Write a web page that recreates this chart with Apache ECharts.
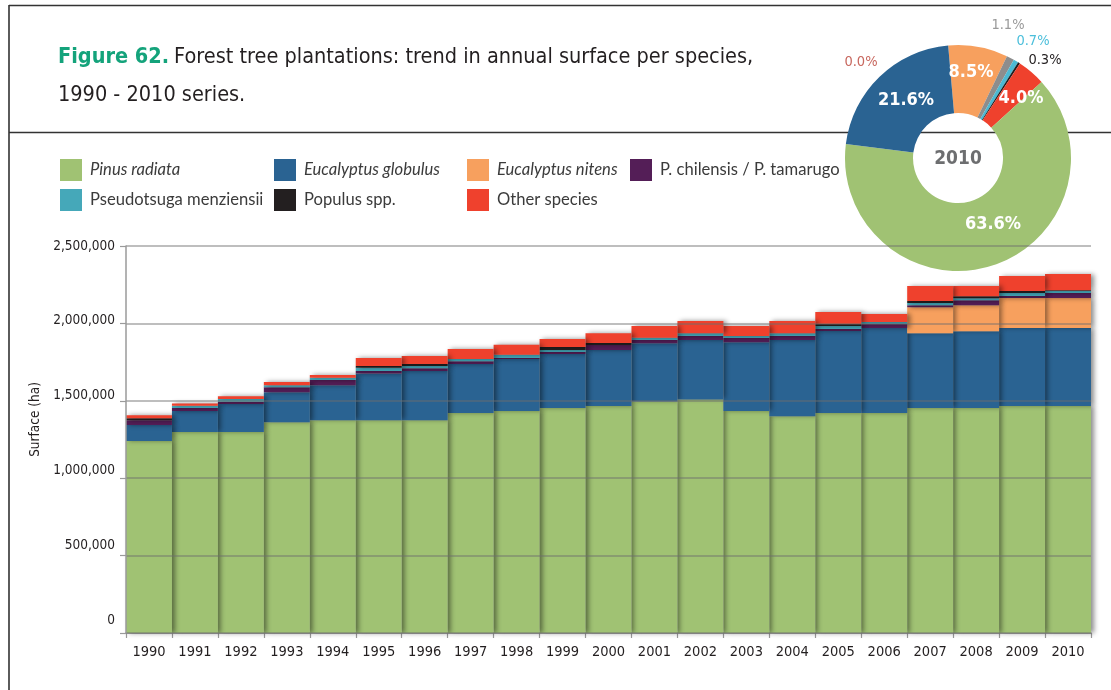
<!DOCTYPE html>
<html>
<head>
<meta charset="utf-8">
<script src="https://cdn.jsdelivr.net/npm/echarts@6/dist/echarts.min.js"></script>
<style>html,body{margin:0;padding:0;background:#fff}#c{width:1111px;height:690px}</style>
</head>
<body>
<div id="c"></div>
<script>
// ---------- DATA ----------
const years = ['1990','1991','1992','1993','1994','1995','1996','1997','1998','1999','2000','2001','2002','2003','2004','2005','2006','2007','2008','2009','2010'];
const pinusRadiata       = [1240000,1298000,1298000,1362000,1375000,1375000,1375000,1421000,1434000,1453000,1466000,1496000,1509000,1434000,1401000,1421000,1421000,1453000,1453000,1466000,1466000];
const eucalyptusGlobulus = [103000,136000,181000,194000,226000,302000,317000,316000,336000,349000,362000,375000,383000,445000,491000,530000,549000,484000,497000,504000,504000];
const eucalyptusNitens   = [0,0,0,0,0,0,0,0,0,0,0,0,0,0,0,0,0,168000,168000,194000,194000];
const pChilensis         = [32000,19000,15000,32000,33000,15000,19000,18000,7000,13000,32000,21000,26000,26000,26000,13000,26000,13000,32000,13000,32000];
const pseudotsuga        = [0,15000,17000,13000,15000,21000,13000,15000,20000,13000,0,15000,19000,13000,19000,19000,13000,13000,13000,19000,13000];
const populus            = [13000,0,0,0,0,11000,13000,0,0,19000,13000,0,0,0,0,13000,0,13000,13000,13000,5000];
const otherSpecies       = [19000,15000,19000,20000,17000,52000,52000,64000,65000,52000,64000,76000,78000,65000,78000,77000,52000,97000,65000,97000,105000];

const seriesNames = ['Pinus radiata','Eucalyptus globulus','Eucalyptus nitens','P. chilensis / P. tamarugo','Pseudotsuga menziensii','Populus spp.','Other species'];
const seriesValues = [pinusRadiata, eucalyptusGlobulus, eucalyptusNitens, pChilensis, pseudotsuga, populus, otherSpecies];

const yMin = 0, yMax = 2500000, yStep = 500000;

const pieYear = '2010';
const pieNames  = ['Eucalyptus nitens','P. chilensis / P. tamarugo','Pseudotsuga menziensii','Populus spp.','Other species','Pinus radiata','Eucalyptus globulus','Unspecified'];
const pieShares = [8.5, 1.1, 0.7, 0.3, 4.0, 63.6, 21.6, 0.0];

// ---------- STYLE ----------
const NARROW = "'DejaVu Sans Condensed','Liberation Sans Narrow','DejaVu Sans',sans-serif";
const LEG = "Lato,'Open Sans',sans-serif";
const seriesColors = ['#a0c273','#2a6392','#f7a05e','#541e57','#45a8b9','#231f20','#ef412d'];
const legendPos = [[60,159],[274,159],[467,159],[630,159],[60,189],[274,189],[467,189]];
const legendItalic = [true,true,true,false,false,false,false];
const pieColors = ['#f7a05e','#8d8d8d','#4bb9d3','#231f20','#ef412d','#a0c273','#2a6392','#c8685f'];
const pieInside = [true,false,false,false,true,true,true,false];
const pieLabelColors = ['#fff','#9a9a9a','#4cbfdb','#231f20','#fff','#fff','#fff','#c8685f'];
// label anchor points (label text placement, as in the original layout)
const pieLabelAnchor = [[971,72],[1008,25],[1033,41],[1045,60],[1021,98],[993,224],[906,100],[861,62]];

const rev = a => a.slice().reverse();
const fmt = v => String(v).replace(/\B(?=(\d{3})+(?!\d))/g, ',');

const yRich = {};
for (let k = 0; k <= 5; k++) {
  const up = Math.max(0, 13 - 2.6 * k);
  yRich['t' + k] = {fontFamily: NARROW, fontSize: 13.5, color: '#231f20', padding: [0, 0, 2 * up, 0]};
}

const chart = echarts.init(document.getElementById('c'), null, {renderer: 'canvas'});

const barSeries = seriesNames.map((name, i) => ({
  name, type: 'bar', stack: 'total', z: 2,
  barWidth: '100%', barCategoryGap: '0%',
  data: rev(seriesValues[i]),
  itemStyle: {color: seriesColors[i], shadowColor: 'rgba(0,0,0,0.45)', shadowBlur: 5, shadowOffsetX: 3, shadowOffsetY: 0},
  emphasis: {disabled: true},
  silent: true
}));

const pieData = pieNames.map((name, i) => ({
  name, value: pieShares[i],
  itemStyle: {color: pieColors[i]},
  label: pieInside[i]
    ? {position: 'inside', color: '#fff', fontWeight: 'bold', fontSize: 18, fontFamily: NARROW, overflow: 'none'}
    : {position: 'outside', color: pieLabelColors[i], fontWeight: 'normal', fontSize: 14.5, fontFamily: NARROW, overflow: 'none'},
  labelLine: {show: false, length: 6, length2: 0}
}));

const legends = seriesNames.map((name, i) => ({
  show: true, left: legendPos[i][0], top: legendPos[i][1], padding: 0, itemGap: 0,
  itemWidth: 22, itemHeight: 22, icon: 'rect', selectedMode: false,
  itemStyle: {shadowBlur: 0, shadowColor: 'rgba(0,0,0,0)', shadowOffsetX: 0, borderWidth: 0},
  textStyle: {fontFamily: LEG, fontSize: 16.6, color: '#3b3b3b', padding: [0, 0, 0, 3]},
  data: [{name, textStyle: {fontStyle: legendItalic[i] ? 'italic' : 'normal'}}]
}));

const option = {
  animation: false,
  backgroundColor: '#fff',
  title: [
    {
      left: 58, top: 38, padding: 0, textAlign: 'left', textVerticalAlign: 'top',
      text: '{a|Figure 62.} {b|Forest tree plantations: trend in annual surface per species,}\n{b|1990 - 2010 series.}',
      textStyle: {rich: {
        a: {fontFamily: NARROW, fontWeight: 'bold', fontSize: 21.5, color: '#14a37b', lineHeight: 38},
        b: {fontFamily: NARROW, fontWeight: 'normal', fontSize: 21.5, color: '#231f20', lineHeight: 38}
      }}
    },
    {
      text: pieYear, left: 958, top: 159, padding: 0, textAlign: 'center', textVerticalAlign: 'middle', z: 10,
      textStyle: {fontFamily: NARROW, fontWeight: 'bold', fontSize: 19, color: '#6d6e70'}
    }
  ],
  graphic: [
    {type: 'line', z: 0, shape: {x1: 9, y1: 5.5, x2: 1111, y2: 5.5}, style: {stroke: '#333', lineWidth: 1.6}},
    {type: 'line', z: 0, shape: {x1: 9, y1: 5, x2: 9, y2: 690}, style: {stroke: '#333', lineWidth: 1.6}},
    {type: 'line', z: 0, shape: {x1: 9, y1: 132.5, x2: 1111, y2: 132.5}, style: {stroke: '#333', lineWidth: 1.6}}
  ],
  legend: legends,
  grid: {left: 126, right: 20, top: 246, bottom: 57, containLabel: false, outerBoundsMode: 'none'},
  xAxis: {
    type: 'category', data: rev(years), inverse: true, boundaryGap: true,
    axisLine: {show: true, lineStyle: {color: '#9a9a9a', width: 1.5}},
    axisTick: {show: true, length: 5, lineStyle: {color: '#9a9a9a', width: 1.2}},
    axisLabel: {fontFamily: NARROW, fontSize: 14.5, color: '#231f20', margin: 12, interval: 0},
    splitLine: {show: false}
  },
  yAxis: {
    type: 'value', min: yMin, max: yMax, interval: yStep, z: 5,
    name: 'Surface (ha)', nameLocation: 'middle', nameRotate: 90, nameGap: 76,
    nameTextStyle: {fontFamily: NARROW, fontSize: 13.5, color: '#231f20', padding: [0, 0, 0, 40]},
    axisLine: {show: true, lineStyle: {color: '#9a9a9a', width: 1.5}},
    axisTick: {show: true, length: 6, lineStyle: {color: '#9a9a9a', width: 1.2}},
    axisLabel: {margin: 11, formatter: v => '{t' + Math.round(v / yStep) + '|' + fmt(v) + '}', rich: yRich},
    splitLine: {show: true, lineStyle: {color: 'rgba(110,110,110,0.6)', width: 1.5}}
  },
  series: barSeries.concat([{
    type: 'pie', z: 3, silent: true,
    center: [958, 158], radius: [45, 113], startAngle: 95, clockwise: true,
    avoidLabelOverlap: false, stillShowZeroSum: true,
    data: pieData,
    label: {show: true, formatter: p => p.value.toFixed(1) + '%', overflow: 'none'},
    labelLine: {show: false},
    labelLayout: p => {
      const a = pieLabelAnchor[p.dataIndex];
      return {x: a[0], y: a[1], align: 'center', verticalAlign: 'middle'};
    },
    emphasis: {disabled: true}
  }])
};
chart.setOption(option);
</script>
</body>
</html>
